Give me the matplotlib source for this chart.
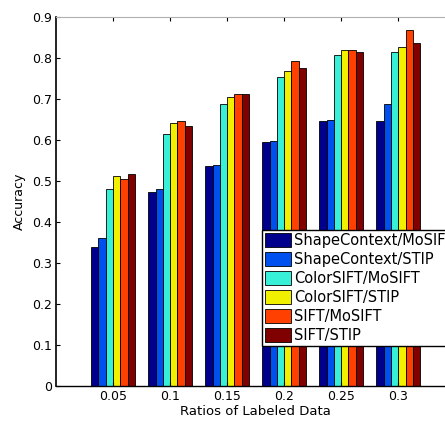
import numpy as np
import matplotlib
matplotlib.use("Agg")
import matplotlib.pyplot as plt

plt.rcParams["font.family"] = ["DejaVu Sans"]

ratios = ["0.05", "0.1", "0.15", "0.2", "0.25", "0.3"]
methods = ["ShapeContext/MoSIFT", "ShapeContext/STIP", "ColorSIFT/MoSIFT",
           "ColorSIFT/STIP", "SIFT/MoSIFT", "SIFT/STIP"]
shape_mosift = [0.340, 0.473, 0.537, 0.595, 0.646, 0.647]
shape_stip = [0.360, 0.480, 0.540, 0.597, 0.648, 0.688]
color_mosift = [0.480, 0.614, 0.688, 0.754, 0.807, 0.815]
color_stip = [0.512, 0.641, 0.705, 0.768, 0.820, 0.827]
sift_mosift = [0.505, 0.647, 0.713, 0.793, 0.820, 0.868]
sift_stip = [0.517, 0.634, 0.713, 0.775, 0.815, 0.836]
series = [shape_mosift, shape_stip, color_mosift, color_stip, sift_mosift, sift_stip]
colors = ["#00008C", "#0050F0", "#38F0D8", "#F0F000", "#FF4000", "#800000"]

fig = plt.figure(figsize=(4.45, 4.22), dpi=100)
# axes run past the right edge, as in the cropped original
ax = fig.add_axes([0.126, 0.085, 0.897, 0.875])

x = np.arange(1, len(ratios) + 1)
w = 0.128
for i, (vals, c, lab) in enumerate(zip(series, colors, methods)):
    ax.bar(x + (i - 2.5) * w, vals, w, color=c, edgecolor="black",
           linewidth=0.6, label=lab)

ax.set_xlim(0, 7)
ax.set_ylim(0, 0.9)
ax.set_xticks(x)
ax.set_xticklabels(ratios)
ax.set_yticks(np.arange(0, 0.91, 0.1))
ax.set_yticklabels(["0"] + [f"{v:.1f}" for v in np.arange(0.1, 0.91, 0.1)])
ax.tick_params(direction="in", labelsize=9, length=3, pad=3, top=True, right=True)
ax.spines["top"].set_color("#b0b0b0")
ax.spines["left"].set_linewidth(1.2)
ax.spines["bottom"].set_linewidth(1.0)
ax.set_xlabel("Ratios of Labeled Data", fontsize=9.5, labelpad=1.5)
ax.set_ylabel("Accuracy", fontsize=9, labelpad=4)

fig.legend(loc="upper left", bbox_to_anchor=(0.588, 0.455), fontsize=10.5,
           frameon=True, fancybox=False, edgecolor="black", framealpha=1,
           handlelength=1.8, handleheight=1.1, handletextpad=0.2,
           labelspacing=0.28, borderpad=0.2, borderaxespad=0)

fig.savefig("out.png", dpi=100)
